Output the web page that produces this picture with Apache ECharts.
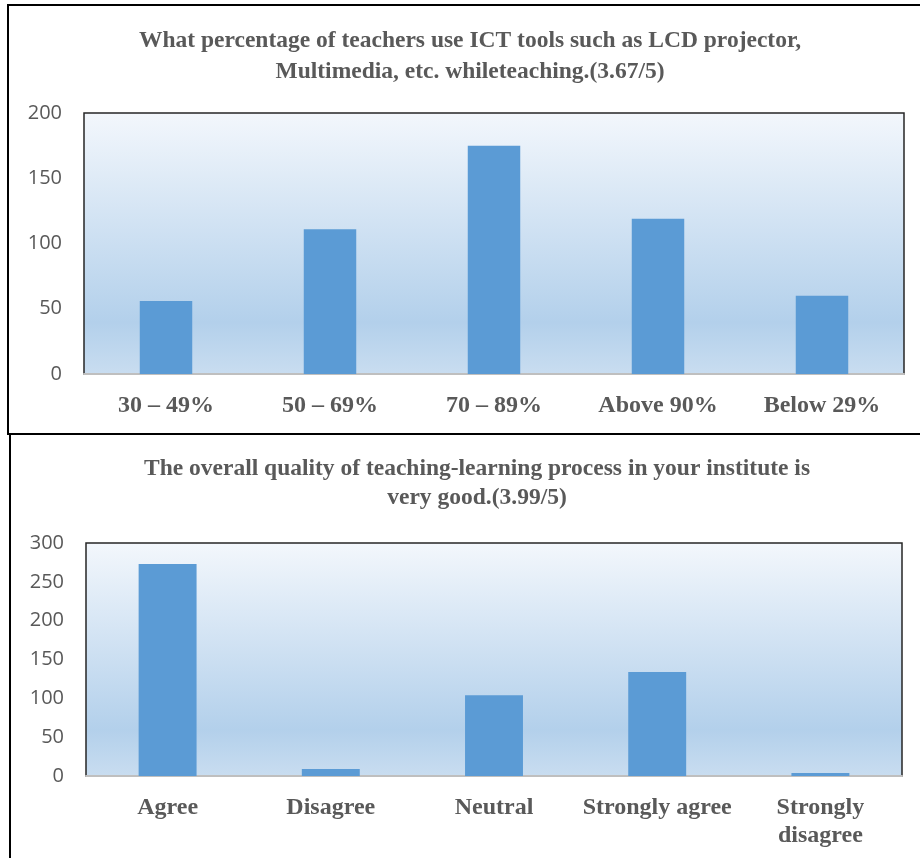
<!DOCTYPE html>
<html>
<head>
<meta charset="utf-8">
<script src="https://cdn.jsdelivr.net/npm/echarts@6/dist/echarts.min.js"></script>
<style>
html, body { margin:0; padding:0; background:#fff; }
#main { width:920px; height:858px; }
</style>
</head>
<body>
<div id="main"></div>
<script>
// chart 1: ICT tools usage
var ictCategories = ['30 – 49%', '50 – 69%', '70 – 89%', 'Above 90%', 'Below 29%'];
var ictValues = [56, 111, 175, 119, 60];
var ictTicks = [0, 50, 100, 150, 200];

// chart 2: overall quality
var qualityCategories = ['Agree', 'Disagree', 'Neutral', 'Strongly agree', 'Strongly\ndisagree'];
var qualityValues = [273, 9, 104, 134, 4];
var qualityTicks = [0, 50, 100, 150, 200, 250, 300];

var serif = '"Liberation Serif", "Times New Roman", serif';
var sans = '"Open Sans", "Noto Sans", sans-serif';
var textGray = '#595959';

var plotBg = new echarts.graphic.LinearGradient(0, 0, 0, 1, [
	{offset: 0, color: '#f3f7fc'},
	{offset: 0.8, color: '#b3d0eb'},
	{offset: 1, color: '#c9ddf0'}
]);

function makeXAxis(idx, cats){
	return {
		type: 'category',
		gridIndex: idx,
		data: cats,
		axisLine: {show: true, lineStyle: {color: '#bfbfbf', width: 2}},
		axisTick: {show: false},
		axisLabel: {
			color: textGray, fontFamily: serif, fontWeight: 'bold',
			fontSize: 24, lineHeight: 28, margin: 18, interval: 0
		}
	};
}
function makeYAxis(idx, ticks){
	return {
		type: 'value',
		gridIndex: idx,
		min: ticks[0],
		max: ticks[ticks.length - 1],
		interval: ticks[1] - ticks[0],
		axisLine: {show: false},
		axisTick: {show: false},
		splitLine: {show: false},
		axisLabel: {color: textGray, fontFamily: sans, fontSize: 20, margin: 22}
	};
}

var chart = echarts.init(document.getElementById('main'));
chart.setOption({
	animation: false,
	title: [
		{
			text: 'What percentage of teachers use ICT tools such as LCD projector,\nMultimedia, etc. whileteaching.(3.67/5)',
			left: 465, top: 20, textAlign: 'center',
			textStyle: {color: textGray, fontFamily: serif, fontWeight: 'bold', fontSize: 23.5, lineHeight: 31}
		},
		{
			text: 'The overall quality of teaching-learning process in your institute is\nvery good.(3.99/5)',
			left: 472, top: 449, textAlign: 'center',
			textStyle: {color: textGray, fontFamily: serif, fontWeight: 'bold', fontSize: 23.5, lineHeight: 29}
		}
	],
	graphic: [
		{type: 'rect', shape: {x: 8, y: 5, width: 930, height: 429}, style: {fill: 'none', stroke: '#000', lineWidth: 2}, silent: true},
		{type: 'rect', shape: {x: 10, y: 434, width: 930, height: 440}, style: {fill: 'none', stroke: '#000', lineWidth: 2}, silent: true}
	],
	grid: [
		{left: 84, top: 113, width: 820, height: 261, show: true, backgroundColor: plotBg, borderColor: '#262626', borderWidth: 1.5},
		{left: 86, top: 543, width: 816, height: 233, show: true, backgroundColor: plotBg, borderColor: '#262626', borderWidth: 1.5}
	],
	xAxis: [makeXAxis(0, ictCategories), makeXAxis(1, qualityCategories)],
	yAxis: [makeYAxis(0, ictTicks), makeYAxis(1, qualityTicks)],
	series: [
		{
			type: 'bar', xAxisIndex: 0, yAxisIndex: 0,
			data: ictValues, barWidth: '32%',
			itemStyle: {color: '#5b9bd5'}
		},
		{
			type: 'bar', xAxisIndex: 1, yAxisIndex: 1,
			data: qualityValues, barWidth: '35.5%',
			itemStyle: {color: '#5b9bd5'}
		}
	]
});
</script>
</body>
</html>
